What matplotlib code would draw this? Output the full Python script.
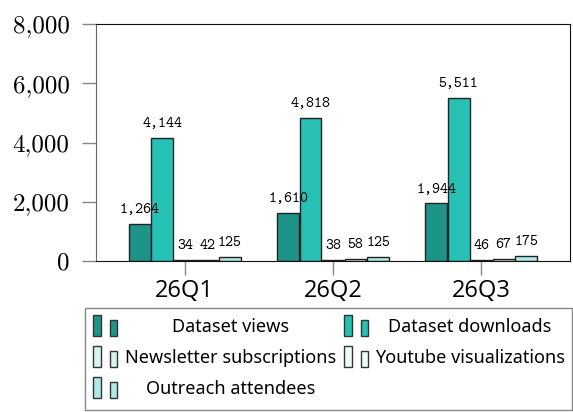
import matplotlib
matplotlib.use("Agg")
import matplotlib.pyplot as plt
from matplotlib.patches import Rectangle
import numpy as np

quarters = ["26Q1", "26Q2", "26Q3"]
series_names = ["Dataset views", "Dataset downloads", "Newsletter subscriptions",
                "Youtube visualizations", "Outreach attendees"]
dataset_views = [1264, 1610, 1944]
dataset_downloads = [4144, 4818, 5511]
newsletter_subscriptions = [34, 38, 46]
youtube_visualizations = [42, 58, 67]
outreach_attendees = [125, 125, 175]
series_values = [dataset_views, dataset_downloads, newsletter_subscriptions,
                 youtube_visualizations, outreach_attendees]
colors = ["#1e9488", "#26c1b4", "#d8f4f2", "#eafbfa", "#aee9e6"]
y_ticks = [0, 2000, 4000, 6000, 8000]

fig = plt.figure(figsize=(5.73, 4.12), dpi=100)
ax = fig.add_axes([96/573, 1-261/412, (570-96)/573, (261-24)/412])

x = np.arange(len(quarters))
step = 0.152
width = 0.148
for i, (vals, col) in enumerate(zip(series_values, colors)):
    pos = x + (i - 2) * step
    ax.bar(pos, vals, width=width, color=col, edgecolor="#222222", linewidth=1.0, zorder=2)
    for p, v in zip(pos, vals):
        ax.annotate(f"{v:,}", (p, v), xytext=(0, 7.8), textcoords="offset points",
                    ha="center", va="baseline", fontsize=11, family="cmtt10", zorder=3)

ax.set_xlim(-0.6, 2.6)
ax.set_ylim(0, 8000)
ax.set_yticks(y_ticks)
ax.set_yticklabels([f"{t:,}" for t in y_ticks], family="cmr10", fontsize=18)
ax.set_xticks(x)
ax.set_xticklabels(quarters, family="Open Sans", fontsize=17)
ax.tick_params(axis="both", direction="out", length=10, color="#888888", width=1)
ax.tick_params(axis="x", pad=3)
ax.tick_params(axis="y", pad=9)
for s in ["top", "right", "bottom"]:
    ax.spines[s].set_color("#111111")
ax.spines["left"].set_color("#666666")

# legend (manual, pgfplots style)
fig.patches.append(Rectangle((85/573, 1-410/412), (572-85)/573, 102/412,
                             transform=fig.transFigure, fill=False,
                             edgecolor="#888888", linewidth=1))
entries = [(0, 0, 231), (1, 1, 470), (2, 0, 231), (3, 1, 470), (4, 0, 231)]
row_bottoms = [336, 367, 398]
col_handle_x = [93, 344]
for idx, (si, col, tx) in enumerate(entries):
    row = idx // 2
    yb = row_bottoms[row]
    hx = col_handle_x[col]
    fig.patches.append(Rectangle((hx/573, 1-yb/412), 8/573, 21/412,
                                 transform=fig.transFigure, facecolor=colors[si],
                                 edgecolor="#333333", linewidth=1))
    fig.patches.append(Rectangle(((hx+17)/573, 1-yb/412), 7/573, 16/412,
                                 transform=fig.transFigure, facecolor=colors[si],
                                 edgecolor="#333333", linewidth=1))
    fig.text(tx/573, 1-(yb-9)/412, series_names[si], ha="center", va="center",
             family="Noto Sans", fontsize=13)

fig.savefig("out.png", dpi=100)
